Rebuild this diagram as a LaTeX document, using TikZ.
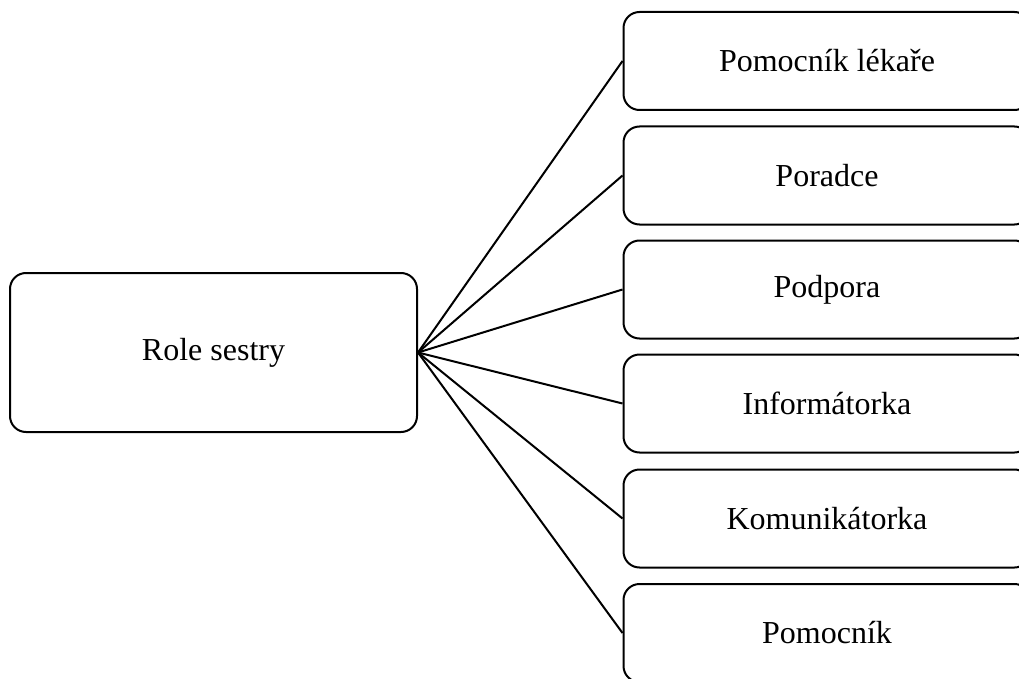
\documentclass[tikz,border=0pt]{standalone}
\usepackage{fontspec}
\setmainfont{Liberation Serif}
\begin{document}
\begin{tikzpicture}[x=1pt,y=-1pt,
  box/.style={draw,line width=2pt,rounded corners=16pt,inner sep=0pt,
    font=\fontsize{32}{38}\selectfont},
  rolebox/.style={box,minimum width=407pt,minimum height=98pt},
  link/.style={line width=2pt}]
\useasboundingbox (0,0) rectangle (1019,679);
\clip (0,0) rectangle (1019,679);
\node[box,minimum width=407pt,minimum height=159pt] (root) at (213.5,352.5) {Role sestry};
\node[rolebox] (r1) at (827,61) {Pomocník lékaře};
\node[rolebox] (r2) at (827,175.5) {Poradce};
\node[rolebox] (r3) at (827,289.5) {Podpora};
\node[rolebox] (r4) at (827,403.5) {Informátorka};
\node[rolebox] (r5) at (827,518.5) {Komunikátorka};
\node[rolebox] (r6) at (827,633) {Pomocník};
\foreach \n in {r1,r2,r3,r4,r5,r6}
  \draw[link] (root.east) -- (\n.west);
\end{tikzpicture}
\end{document}
